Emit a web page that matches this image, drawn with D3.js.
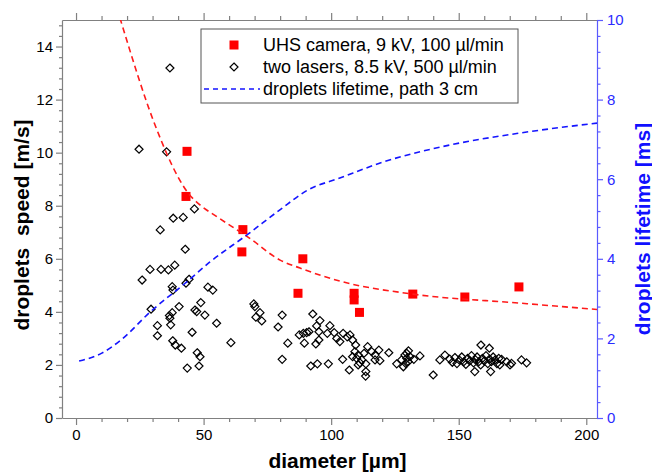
<!DOCTYPE html>
<html>
<head>
<meta charset="utf-8">
<script src="https://cdn.jsdelivr.net/npm/d3@7"></script>
<style>
  html, body { margin: 0; padding: 0; background: #fff; }
  svg { display: block; font-family: "Liberation Sans", Arial, sans-serif; }
</style>
</head>
<body>
<svg id="chart" width="652" height="474"></svg>
<script>
// UHS camera measurements (diameter in µm, speed in m/s)
const cameraDiameter = [43.5, 43.1, 65.4, 65.0, 88.9, 87.0, 109.0, 109.0, 111.1, 132.0, 152.4, 173.6];
const cameraSpeed    = [10.05, 8.35, 7.10, 6.26, 6.00, 4.70, 4.70, 4.45, 3.98, 4.67, 4.56, 4.94];

// two-laser measurements (diameter in µm, speed in m/s)
const laserDiameter = [
  36.8, 24.7, 35.5, 46.4, 38.1, 42.0, 33.0, 42.8, 29.0, 33.3, 36.2, 38.7, 25.9, 44.3, 43.1, 37.7,
  38.0, 51.7, 53.6, 29.4, 40.4, 37.7, 36.6, 36.8, 46.6, 48.9, 47.3, 50.5, 31.9, 37.1, 55.1, 45.5,
  31.9, 37.9, 38.9, 41.3, 60.7, 47.5, 48.6, 43.6, 48.2,
  69.7, 70.1, 72.1, 70.5, 72.8, 80.8, 79.2, 92.8, 95.6, 94.3, 99.5, 95.2, 83.0, 87.5, 89.1, 90.4,
  91.3, 89.5, 94.0, 95.2, 98.5, 101.2, 102.2, 103.4, 104.7, 106.3, 107.4, 108.4, 109.6, 109.3, 110.6, 112.0,
  110.0, 111.3, 112.9, 114.3, 115.9, 117.2, 118.7, 117.2, 119.1, 122.6, 113.6, 80.8, 92.0, 94.6, 98.9, 104.5,
  108.4, 107.1, 113.6, 113.5, 110.6, 125.7, 127.6, 128.3, 129.6, 129.2, 130.2,
  130.3, 128.9, 129.6, 130.9, 132.4, 134.8, 140.0, 142.6, 144.6,
  146.5, 147.5, 148.5, 149.3, 150.3, 151.2, 152.0, 152.8, 153.5, 154.3, 155.0, 155.8, 156.5, 157.2, 157.9, 158.6,
  159.3, 160.0, 160.7, 161.4, 162.1, 162.8, 163.5, 164.2, 165.0, 165.7,
  158.7, 162.0, 156.3, 162.5, 166.8, 168.8, 170.1, 170.7, 166.1, 174.6, 176.6
];
const laserSpeed = [
  13.19, 10.13, 10.03, 7.88, 7.53, 7.56, 7.09, 6.36, 5.60, 5.60, 5.58, 5.76, 5.20, 5.23, 5.08, 4.95,
  4.82, 4.93, 4.82, 4.10, 4.20, 3.97, 3.86, 3.76, 4.07, 4.35, 4.01, 3.88, 3.48, 3.51, 3.57, 3.23,
  3.10, 2.91, 2.75, 2.63, 2.84, 2.46, 2.31, 1.88, 1.96,
  4.30, 4.20, 3.97, 3.80, 3.66, 3.88, 3.43, 3.92, 3.67, 3.47, 3.48, 3.25, 2.82, 3.13, 3.19, 3.22,
  3.25, 2.82, 2.79, 2.94, 3.19, 3.22, 3.00, 2.88, 3.19, 3.06, 3.13, 2.94, 2.75, 2.50, 2.37, 2.19,
  2.25, 2.08, 2.44, 2.69, 2.50, 2.37, 2.56, 2.19, 2.16, 2.46, 2.04, 2.21, 1.96, 2.04, 2.04, 2.21,
  2.31, 1.81, 1.75, 1.58, 2.00, 2.04, 2.19, 1.93, 2.44, 2.06, 2.12,
  2.53, 2.37, 2.25, 2.31, 2.21, 2.34, 1.62, 2.19, 2.37,
  2.22, 2.10, 2.28, 2.05, 2.18, 2.30, 2.12, 2.02, 2.25, 2.15, 2.35, 2.08, 2.20, 2.30, 2.12, 2.00,
  2.25, 2.15, 2.35, 2.05, 2.22, 2.12, 2.30, 2.18, 2.05, 2.25,
  2.75, 2.63, 1.75, 1.75, 2.21, 2.12, 2.00, 2.06, 2.00, 2.19, 2.08
];

// speed fit curve (left axis)
const fitDiameter = [17.2, 31.7, 40.0, 43.9, 48.6, 55.3, 63.1, 67.4, 80.0, 87.8, 103.4, 132.0, 174.0, 204.2];
const fitSpeed    = [15.08, 10.86, 9.08, 8.48, 8.03, 7.58, 7.09, 6.82, 5.95, 5.65, 5.16, 4.67, 4.33, 4.09];

// droplet lifetime over a 3 cm path (right axis, ms)
const lifeDiameter = [1.2, 10.1, 17.6, 29.0, 43.4, 52.5, 67.4, 79.9, 90.9, 103.4, 120.3, 146.6, 174.0, 204.2];
const lifeMs       = [1.43, 1.63, 1.96, 2.66, 3.42, 3.92, 4.62, 5.23, 5.73, 6.03, 6.43, 6.86, 7.16, 7.41];

// axis ticks
const xMajor = [0, 50, 100, 150, 200];
const yLeftMajor = [0, 2, 4, 6, 8, 10, 12, 14];
const yRightMajor = [0, 2, 4, 6, 8, 10];

const legendLabels = [
  "UHS camera, 9 kV, 100 µl/min",
  "two lasers, 8.5 kV, 500 µl/min",
  "droplets lifetime, path 3 cm"
];

const svg = d3.select("#chart");
const L = 62, R = 597, T = 20, B = 418;
const axisGray = "#808080";
const blueAxis = "#5a5aff";
const blueText = "#2b2bff";

const x = d3.scaleLinear().domain([-5.5, 204.2]).range([L, R]);
const yL = d3.scaleLinear().domain([0, 15]).range([B, T]);
const yR = d3.scaleLinear().domain([0, 10]).range([B, T]);

// minor ticks: every 10 µm on x, every 0.4 on both y axes
const xMinor = d3.range(0, 201, 10).filter(v => v % 50 !== 0);
const yLMinor = d3.range(0, 38).map(i => +(i * 0.4).toFixed(1)).filter(v => v <= 15 && v % 2 !== 0);
const yRMinor = d3.range(0, 26).map(i => +(i * 0.4).toFixed(1)).filter(v => v <= 10 && v % 2 !== 0);

svg.append("defs").append("clipPath").attr("id", "plotClip")
  .append("rect").attr("x", L).attr("y", T).attr("width", R - L).attr("height", B - T);

function styleAxis(g, color, textColor) {
  g.select(".domain").attr("stroke", color).attr("stroke-width", 1.2);
  g.selectAll(".tick line").attr("stroke", color).attr("stroke-width", 1.2);
  g.selectAll(".tick text").attr("fill", textColor).style("font-size", "15px")
    .style("font-family", "'Liberation Sans', Arial, sans-serif");
}

// bottom axis
const gB = svg.append("g").attr("transform", `translate(0,${B})`);
gB.call(d3.axisBottom(x).tickValues(xMajor).tickSize(7).tickSizeOuter(0).tickPadding(4));
gB.append("g").call(d3.axisBottom(x).tickValues(xMinor).tickSize(4).tickFormat("")).select(".domain").remove();
styleAxis(gB, axisGray, "#000");

// top axis
const gT = svg.append("g").attr("transform", `translate(0,${T})`);
gT.call(d3.axisTop(x).tickValues(xMajor).tickSize(7).tickSizeOuter(0).tickFormat(""));
gT.append("g").call(d3.axisTop(x).tickValues(xMinor).tickSize(4).tickFormat("")).select(".domain").remove();
styleAxis(gT, axisGray, "#000");

// left axis
const gL = svg.append("g").attr("transform", `translate(${L},0)`);
gL.call(d3.axisLeft(yL).tickValues(yLeftMajor).tickSize(6).tickSizeOuter(0).tickPadding(3));
gL.append("g").call(d3.axisLeft(yL).tickValues(yLMinor).tickSize(3).tickFormat("")).select(".domain").remove();
styleAxis(gL, axisGray, "#000");

// right axis
const gR = svg.append("g").attr("transform", `translate(${R},0)`);
gR.call(d3.axisRight(yR).tickValues(yRightMajor).tickSize(6).tickSizeOuter(0).tickPadding(4));
gR.append("g").call(d3.axisRight(yR).tickValues(yRMinor).tickSize(3.5).tickFormat("")).select(".domain").remove();
styleAxis(gR, blueAxis, blueText);

// axis titles
svg.append("text").attr("x", (L + R) / 2 + 8).attr("y", 468).attr("text-anchor", "middle")
  .style("font-size", "21px").style("font-weight", "bold").text("diameter [µm]");
svg.append("text").attr("transform", "translate(29,225) rotate(-90)").attr("text-anchor", "middle")
  .style("font-size", "21px").style("font-weight", "bold").style("white-space", "pre")
  .text("droplets  speed [m/s]");
svg.append("text").attr("transform", "translate(642,229) rotate(-90)").attr("text-anchor", "middle")
  .attr("dominant-baseline", "central")
  .attr("fill", "#1010ff").style("font-size", "21px").style("font-weight", "bold")
  .text("droplets lifetime [ms]");

const plot = svg.append("g").attr("clip-path", "url(#plotClip)");

const diamond = r => `M0,${-r}L${r},0L0,${r}L${-r},0Z`;
const dr = 4;

// laser diamonds
plot.selectAll("path.laser").data(d3.range(laserDiameter.length)).join("path")
  .attr("class", "laser")
  .attr("d", diamond(dr))
  .attr("transform", i => `translate(${x(laserDiameter[i])},${yL(laserSpeed[i])})`)
  .attr("fill", "none").attr("stroke", "#000").attr("stroke-width", 1.2);

// camera squares
const sq = 9;
plot.selectAll("rect.cam").data(d3.range(cameraDiameter.length)).join("rect")
  .attr("class", "cam")
  .attr("x", i => x(cameraDiameter[i]) - sq / 2)
  .attr("y", i => yL(cameraSpeed[i]) - sq / 2)
  .attr("width", sq).attr("height", sq)
  .attr("fill", "#ff0000");

// fit and lifetime curves
const fitLine = d3.line().x(i => x(fitDiameter[i])).y(i => yL(fitSpeed[i])).curve(d3.curveMonotoneX);
plot.append("path").attr("d", fitLine(d3.range(fitDiameter.length)))
  .attr("fill", "none").attr("stroke", "#ff1a1a").attr("stroke-width", 1.6).attr("stroke-dasharray", "6,4");

const lifeLine = d3.line().x(i => x(lifeDiameter[i])).y(i => yR(lifeMs[i])).curve(d3.curveMonotoneX);
plot.append("path").attr("d", lifeLine(d3.range(lifeDiameter.length)))
  .attr("fill", "none").attr("stroke", "#1515ff").attr("stroke-width", 1.6).attr("stroke-dasharray", "6,4");

// legend
const lg = svg.append("g");
lg.append("rect").attr("x", 201).attr("y", 29).attr("width", 317).attr("height", 74)
  .attr("fill", "#fff").attr("stroke", "#555").attr("stroke-width", 1);
const rowY = [45, 67, 89];
lg.append("rect").attr("x", 234 - sq / 2).attr("y", rowY[0] - sq / 2).attr("width", sq).attr("height", sq).attr("fill", "#ff0000");
lg.append("path").attr("d", diamond(dr)).attr("transform", `translate(234,${rowY[1]})`)
  .attr("fill", "none").attr("stroke", "#000").attr("stroke-width", 1.2);
lg.append("line").attr("x1", 204).attr("x2", 260).attr("y1", rowY[2]).attr("y2", rowY[2])
  .attr("stroke", "#1515ff").attr("stroke-width", 1.6).attr("stroke-dasharray", "5,4");
lg.selectAll("text.lab").data(legendLabels).join("text")
  .attr("class", "lab")
  .attr("x", 263).attr("y", (d, i) => rowY[i]).attr("dominant-baseline", "central")
  .style("font-size", "18px").text(d => d);
</script>
</body>
</html>
